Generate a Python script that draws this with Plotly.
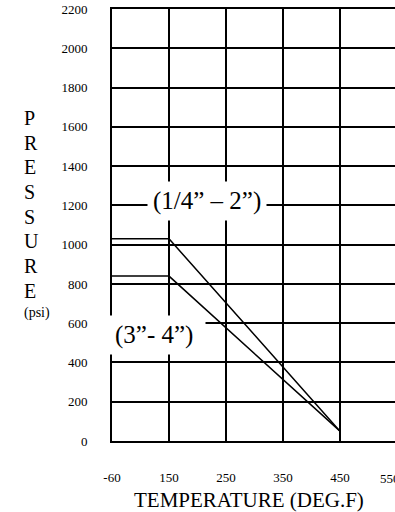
import plotly.graph_objects as go

# Axis ticks as printed on the chart
temp_ticks = [-60, 150, 250, 350, 450, 550]
pressure_ticks = [0, 200, 400, 600, 800, 1000, 1200, 1400, 1600, 1800, 2000, 2200]

# Pressure rating curves (psi vs deg F)
small_temps = [-60, 150, 450]
small_psi = [1030, 1030, 50]
large_temps = [-60, 150, 450]
large_psi = [840, 840, 50]

small_label = '(1/4\u201d \u2013 2\u201d)'
large_label = '(3\u201d- 4\u201d)\u00a0'
y_title_letters = list('PRESSURE')
y_title_unit = '(psi)'
x_title = 'TEMPERATURE (DEG.F)'

FONT = 'Liberation Serif'


def _pos(t):
    """Temperature ticks are evenly spaced on the printed chart, so map to index."""
    return temp_ticks.index(t)


fig = go.Figure()

for temps, psi in [(small_temps, small_psi), (large_temps, large_psi)]:
    fig.add_trace(go.Scatter(
        x=[_pos(t) for t in temps],
        y=psi,
        mode='lines',
        line=dict(color='black', width=1.5),
        hoverinfo='skip',
        showlegend=False,
    ))

# White-boxed size labels sitting on the grid
fig.add_annotation(x=1.67, y=1225, xref='x', yref='y', text=small_label,
                   showarrow=False, bgcolor='white', borderpad=5,
                   font=dict(family=FONT, size=25, color='black'))
fig.add_annotation(x=0.80, y=540, xref='x', yref='y', text=large_label,
                   showarrow=False, bgcolor='white', borderpad=5,
                   font=dict(family=FONT, size=25, color='black'))

# Last temperature label runs off the right edge
fig.add_annotation(x=4.88, y=-0.086, xref='x', yref='paper', text=str(temp_ticks[-1]),
                   showarrow=False, yanchor='middle',
                   font=dict(family=FONT, size=13, color='black'))

# Stacked vertical axis title
for i, ch in enumerate(y_title_letters):
    fig.add_annotation(x=-0.318, y=0.748 - i * 0.0572, xref='paper', yref='paper',
                       text=ch, showarrow=False, yanchor='middle',
                       font=dict(family=FONT, size=20, color='black'))
fig.add_annotation(x=-0.318, y=0.748 - len(y_title_letters) * 0.0572 + 0.005,
                   xref='paper', yref='paper', text=y_title_unit, showarrow=False,
                   yanchor='middle', font=dict(family=FONT, size=14, color='black'))

fig.add_annotation(x=0.485, y=-0.137, xref='paper', yref='paper', text=x_title,
                   showarrow=False, yanchor='middle',
                   font=dict(family=FONT, size=21, color='black'))

fig.update_xaxes(
    range=[0, 4.965],
    tickmode='array',
    tickvals=[_pos(t) for t in temp_ticks[:-1]],
    ticktext=[str(t) for t in temp_ticks[:-1]],
    ticks='',
    ticklabelstandoff=23,
    tickfont=dict(family=FONT, size=13, color='black'),
    showgrid=True,
    gridcolor='black',
    gridwidth=2,
    showline=True,
    linecolor='black',
    linewidth=2,
    mirror=True,
    zeroline=False,
    fixedrange=True,
)

fig.update_yaxes(
    range=[0, 2200.5],
    tickmode='array',
    tickvals=pressure_ticks,
    ticktext=[str(p) for p in pressure_ticks],
    ticks='',
    ticklabelstandoff=20,
    tickfont=dict(family=FONT, size=13, color='black'),
    showgrid=True,
    gridcolor='black',
    gridwidth=2,
    showline=True,
    linecolor='black',
    linewidth=2,
    zeroline=False,
    fixedrange=True,
)

fig.update_layout(
    width=395,
    height=512,
    margin=dict(l=112, r=0, t=9, b=71),
    plot_bgcolor='white',
    paper_bgcolor='white',
    font=dict(family=FONT, color='black'),
    showlegend=False,
)

fig.write_html('out.html', config={'displayModeBar': False},
               post_script="document.body.style.margin='0';")
